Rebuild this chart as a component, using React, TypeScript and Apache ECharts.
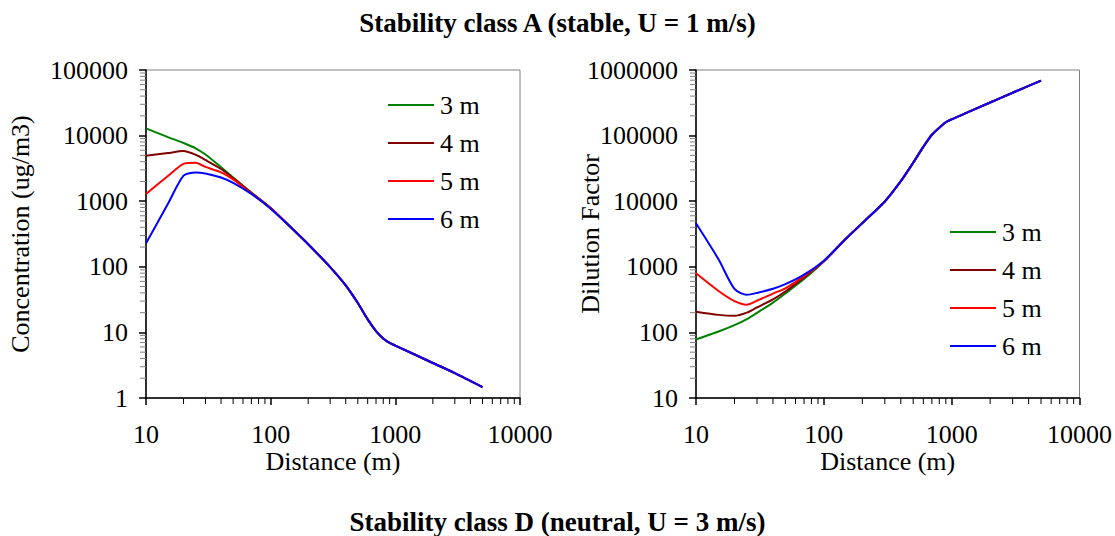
import React, { useEffect, useRef } from "react";
import * as echarts from "echarts";

const distances = [10, 15, 20, 25, 30, 40, 50, 70, 100, 150, 200, 300, 400, 500, 600, 700, 800, 900, 1000, 2000, 3000, 5000];

const seriesNames = ["3 m", "4 m", "5 m", "6 m"];
const seriesColors = ["#008000", "#800000", "#FF0000", "#0000FF"];

// Concentration (ug/m3), stability class A
const conc3m = [12900, 9500, 7700, 6400, 5150, 3300, 2300, 1360, 790, 377, 221, 99, 52, 28, 15.8, 10.5, 8.1, 6.9, 6.3, 3.42, 2.4, 1.47];
const conc4m = [4940, 5430, 5800, 5100, 4250, 3100, 2250, 1340, 785, 377, 221, 99, 52, 28, 15.8, 10.5, 8.1, 6.9, 6.3, 3.42, 2.4, 1.47];
const conc5m = [1290, 2420, 3700, 3850, 3330, 2750, 2150, 1320, 780, 377, 221, 99, 52, 28, 15.8, 10.5, 8.1, 6.9, 6.3, 3.42, 2.4, 1.47];
const conc6m = [228, 912, 2450, 2750, 2650, 2300, 1900, 1290, 770, 376, 221, 99, 52, 28, 15.8, 10.5, 8.1, 6.9, 6.3, 3.42, 2.4, 1.47];

// Dilution factor
const df3m = [78, 103, 129, 160, 199, 285, 392, 650, 1200, 2720, 4630, 9900, 20200, 38600, 67300, 103000, 132000, 160000, 177000, 320000, 450000, 690000];
const df4m = [207, 185, 179, 200, 240, 319, 420, 690, 1210, 2720, 4630, 9900, 20200, 38600, 67300, 103000, 132000, 160000, 177000, 320000, 450000, 690000];
const df5m = [795, 428, 300, 265, 305, 391, 470, 720, 1220, 2720, 4630, 9900, 20200, 38600, 67300, 103000, 132000, 160000, 177000, 320000, 450000, 690000];
const df6m = [4600, 1300, 460, 375, 400, 462, 543, 760, 1240, 2730, 4630, 9900, 20200, 38600, 67300, 103000, 132000, 160000, 177000, 320000, 450000, 690000];

const xTickLabels = ["10", "100", "1000", "10000"];
const concTickLabels = ["1", "10", "100", "1000", "10000", "100000"];
const dfTickLabels = ["10", "100", "1000", "10000", "100000", "1000000"];

const topTitle = "Stability class A (stable, U = 1 m/s)";
const bottomTitle = "Stability class D (neutral, U = 3 m/s)";

const FONT = "Liberation Serif";
const FS = 26;

function minorValues(fromExp: number, toExp: number): number[] {
  const out: number[] = [];
  for (let e = fromExp; e < toExp; e++) {
    for (let k = 2; k <= 9; k++) out.push(k * Math.pow(10, e));
  }
  return out;
}

function fmt(labels: string[]) {
  return (v: number) => {
    const s = String(Math.round(v));
    return labels.indexOf(s) >= 0 ? s : "";
  };
}

export default function App() {
  const ref = useRef<HTMLDivElement>(null);
  useEffect(() => {
    document.body.style.margin = "0";
    const chart = echarts.init(ref.current!, undefined, { renderer: "svg" });

    const makeX = (gridIndex: number) => ({
      type: "log" as const,
      logBase: 10,
      gridIndex,
      min: 10,
      max: 10000,
      name: "Distance (m)",
      nameLocation: "middle" as const,
      nameGap: 50,
      nameMoveOverlap: false,
      nameTextStyle: { fontFamily: FONT, fontSize: FS, color: "#000" },
      axisLine: { show: true, lineStyle: { color: "#000", width: 1.5 } },
      axisTick: { show: true, length: 7, inside: false, lineStyle: { color: "#000", width: 1.5 } },
      axisLabel: { fontFamily: FONT, fontSize: FS, color: "#000", margin: 23, formatter: fmt(xTickLabels) },
      splitLine: { show: false },
    });

    const makeY = (gridIndex: number, min: number, max: number, name: string, gap: number, labels: string[]) => ({
      type: "log" as const,
      logBase: 10,
      gridIndex,
      min,
      max,
      name,
      nameLocation: "middle" as const,
      nameGap: gap,
      nameMoveOverlap: false,
      nameTextStyle: { fontFamily: FONT, fontSize: FS, color: "#000" },
      axisLine: { show: true, lineStyle: { color: "#000", width: 1.5 } },
      axisTick: { show: true, length: 7, inside: false, lineStyle: { color: "#000", width: 1.5 } },
      axisLabel: { fontFamily: FONT, fontSize: FS, color: "#000", margin: 18, formatter: fmt(labels) },
      splitLine: { show: false },
    });

    const lineSeries = (gi: number, arrays: number[][]) =>
      arrays.map((arr, i) => ({
        type: "line" as const,
        name: seriesNames[i],
        xAxisIndex: gi,
        yAxisIndex: gi,
        data: distances.map((d, j) => [d, arr[j]]),
        showSymbol: false,
        symbol: "none",
        smooth: 0.25,
        lineStyle: { color: seriesColors[i], width: 2 },
        itemStyle: { color: seriesColors[i] },
        z: 5,
      }));

    const xMinor = minorValues(1, 4);

    const tickSeries = (gi: number, yMin: number, yMinor: number[]) => [
      {
        type: "custom" as const,
        xAxisIndex: gi,
        yAxisIndex: gi,
        silent: true,
        clip: false,
        z: 3,
        data: xMinor.map((v) => [v, yMin]),
        renderItem: (_p: any, api: any) => {
          const pt = api.coord([api.value(0), api.value(1)]);
          return {
            type: "line",
            shape: { x1: pt[0], y1: pt[1], x2: pt[0], y2: pt[1] + 6 },
            style: { stroke: "#000", lineWidth: 1 },
          };
        },
      },
      {
        type: "custom" as const,
        xAxisIndex: gi,
        yAxisIndex: gi,
        silent: true,
        clip: false,
        z: 3,
        data: yMinor.map((v) => [10, v]),
        renderItem: (_p: any, api: any) => {
          const pt = api.coord([api.value(0), api.value(1)]);
          return {
            type: "line",
            shape: { x1: pt[0] - 6, y1: pt[1], x2: pt[0], y2: pt[1] },
            style: { stroke: "#808080", lineWidth: 1 },
          };
        },
      },
    ];

    const legendCommon = {
      data: seriesNames,
      orient: "vertical" as const,
      itemWidth: 46,
      itemHeight: 2,
      itemGap: 12,
      icon: "rect",
      textStyle: { fontFamily: FONT, fontSize: FS, color: "#000", padding: [0, 0, 0, 1] },
      selectedMode: false,
    };

    chart.setOption({
      animation: false,
      backgroundColor: "#fff",
      title: [
        { text: topTitle, left: "center", top: 4, textStyle: { fontFamily: FONT, fontSize: 27, fontWeight: "bold", color: "#000" } },
        { text: bottomTitle, left: "center", top: 503, textStyle: { fontFamily: FONT, fontSize: 27, fontWeight: "bold", color: "#000" } },
      ],
      legend: [
        { ...legendCommon, left: 383, top: 87 },
        { ...legendCommon, left: 945, top: 214 },
      ],
      grid: [
        { left: 146, right: 595, top: 70, bottom: 138, show: true, borderColor: "#808080", borderWidth: 1, containLabel: false },
        { left: 696, right: 35, top: 70, bottom: 138, show: true, borderColor: "#808080", borderWidth: 1, containLabel: false },
      ],
      xAxis: [makeX(0), makeX(1)],
      yAxis: [
        makeY(0, 1, 100000, "Concentration (ug/m3)", 113, concTickLabels),
        makeY(1, 10, 1000000, "Dilution Factor", 93, dfTickLabels),
      ],
      series: [
        ...lineSeries(0, [conc3m, conc4m, conc5m, conc6m]),
        ...lineSeries(1, [df3m, df4m, df5m, df6m]),
        ...tickSeries(0, 1, minorValues(0, 5)),
        ...tickSeries(1, 10, minorValues(1, 6)),
      ],
    });
    return () => chart.dispose();
  }, []);
  return <div ref={ref} style={{ width: 1115, height: 536, position: "fixed", left: 0, top: 0 }} />;
}
